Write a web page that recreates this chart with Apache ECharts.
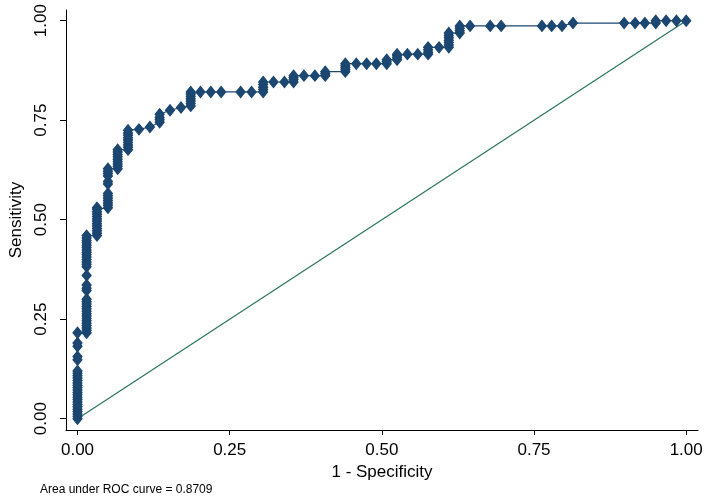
<!DOCTYPE html>
<html>
<head>
<meta charset="utf-8">
<script src="https://cdn.jsdelivr.net/npm/echarts@6/dist/echarts.min.js"></script>
<style>
html,body{margin:0;padding:0;background:#fff;}
#chart{width:709px;height:502px;}
</style>
</head>
<body>
<div id="chart"></div>
<script>
// ROC points, grouped by 1 - Specificity (x);
// each inner list holds the Sensitivity values (y) of the points at that x.
const fprLevels = [
  0, 0.015, 0.032, 0.05, 0.066, 0.083, 0.101, 0.119, 0.135, 0.152, 0.170, 0.186,
  0.202, 0.219, 0.236, 0.268, 0.286, 0.305, 0.322, 0.340, 0.355, 0.372, 0.390,
  0.407, 0.440, 0.458, 0.475, 0.491, 0.508, 0.525, 0.542, 0.559, 0.576, 0.594,
  0.610, 0.628, 0.645, 0.678, 0.696, 0.763, 0.779, 0.796, 0.814, 0.898, 0.916,
  0.932, 0.950, 0.967, 0.984, 1.0
];
const tprAtLevel = [
  [0,0.006,0.012,0.018,0.024,0.03,0.036,0.042,0.048,0.054,0.06,0.066,0.072,0.078,0.084,0.09,0.096,0.102,0.108,0.114,0.12,0.148,0.156,0.182,0.19,0.216],
  [0.216,0.222,0.228,0.234,0.24,0.246,0.252,0.258,0.264,0.27,0.276,0.282,0.288,0.294,0.3,0.322,0.328,0.336,0.36,0.382,0.388,0.394,0.4,0.406,0.412,0.418,0.424,0.43,0.436,0.442,0.448,0.454,0.46],
  [0.46,0.466,0.472,0.478,0.484,0.49,0.496,0.502,0.508,0.514,0.52,0.526,0.53],
  [0.53,0.536,0.542,0.548,0.554,0.56,0.566,0.59,0.596,0.61,0.616,0.622,0.628],
  [0.628,0.634,0.64,0.646,0.652,0.658,0.664,0.67,0.676],
  [0.676,0.682,0.688,0.694,0.7,0.706,0.712,0.718,0.725],
  [0.727],
  [0.733],
  [0.745,0.751,0.757,0.765],
  [0.775],
  [0.782],
  [0.786,0.792,0.798,0.804,0.81,0.816,0.821],
  [0.821],
  [0.821],
  [0.821],
  [0.821],
  [0.821],
  [0.821,0.827,0.833,0.84,0.846],
  [0.846],
  [0.846],
  [0.846,0.852,0.857,0.862],
  [0.862],
  [0.862],
  [0.862,0.867,0.872],
  [0.872,0.877,0.882,0.887,0.892],
  [0.892],
  [0.892],
  [0.892],
  [0.892,0.897,0.902],
  [0.902,0.907,0.912,0.916],
  [0.916],
  [0.916],
  [0.916,0.921,0.927,0.933],
  [0.933],
  [0.933,0.939,0.945,0.951,0.957,0.963,0.969],
  [0.969,0.975,0.981,0.987],
  [0.987],
  [0.987],
  [0.987],
  [0.987],
  [0.987],
  [0.987],
  [0.994],
  [0.994],
  [0.994],
  [0.994],
  [0.994,1.0],
  [1.0],
  [1.0],
  [1.0]
];
const refX = [0, 1];
const refY = [0, 1];
const tickValues = [0, 0.25, 0.5, 0.75, 1];
const xTitle = '1 - Specificity';
const yTitle = 'Sensitivity';
const aucNote = 'Area under ROC curve = 0.8709';

const rocData = [];
fprLevels.forEach((x, i) => tprAtLevel[i].forEach(y => rocData.push([x, y])));
const refData = refX.map((x, i) => [x, refY[i]]);

const chart = echarts.init(document.getElementById('chart'), null, {renderer: 'canvas'});
const font = "'Liberation Sans', Arial, sans-serif";
chart.setOption({
  animation: false,
  backgroundColor: '#ffffff',
  grid: {left: 56, right: 11, top: 10, bottom: 72, containLabel: false},
  xAxis: {
    type: 'value',
    min: -0.0189, max: 1.0194,
    name: xTitle, nameLocation: 'middle', nameGap: 20,
    nameTextStyle: {color: '#000', fontSize: 17, fontFamily: font},
    axisLine: {show: true, onZero: false, lineStyle: {color: '#000', width: 1}},
    axisTick: {show: true, length: 5, customValues: tickValues, lineStyle: {color: '#000'}},
    axisLabel: {show: true, customValues: tickValues, margin: 12, color: '#000', fontSize: 17, fontFamily: font,
      formatter: v => v.toFixed(2)},
    splitLine: {show: false}
  },
  yAxis: {
    type: 'value',
    min: -0.0284, max: 1.0269,
    name: yTitle, nameLocation: 'middle', nameGap: 41,
    nameTextStyle: {color: '#000', fontSize: 17, fontFamily: font},
    axisLine: {show: true, onZero: false, lineStyle: {color: '#000', width: 1}},
    axisTick: {show: true, length: 6, customValues: tickValues, lineStyle: {color: '#000'}},
    axisLabel: {show: true, customValues: tickValues, rotate: 90, margin: 16, color: '#000', fontSize: 17, fontFamily: font,
      formatter: v => v.toFixed(2)},
    splitLine: {show: false}
  },
  graphic: [{
    type: 'text', left: 40, top: 484,
    style: {text: aucNote, fill: '#000', font: "12px 'Liberation Sans', Arial, sans-serif"}
  }],
  series: [
    {
      type: 'line', data: refData, symbol: 'none', silent: true,
      lineStyle: {color: '#2c7560', width: 1.2}, z: 1
    },
    {
      type: 'line', data: rocData, symbol: 'diamond', symbolSize: [9, 11],
      showAllSymbol: true,
      itemStyle: {color: '#1b4771', borderColor: '#1b4771', borderWidth: 1.2},
      lineStyle: {color: '#1b4771', width: 1.2}, z: 2
    }
  ]
});
</script>
</body>
</html>
